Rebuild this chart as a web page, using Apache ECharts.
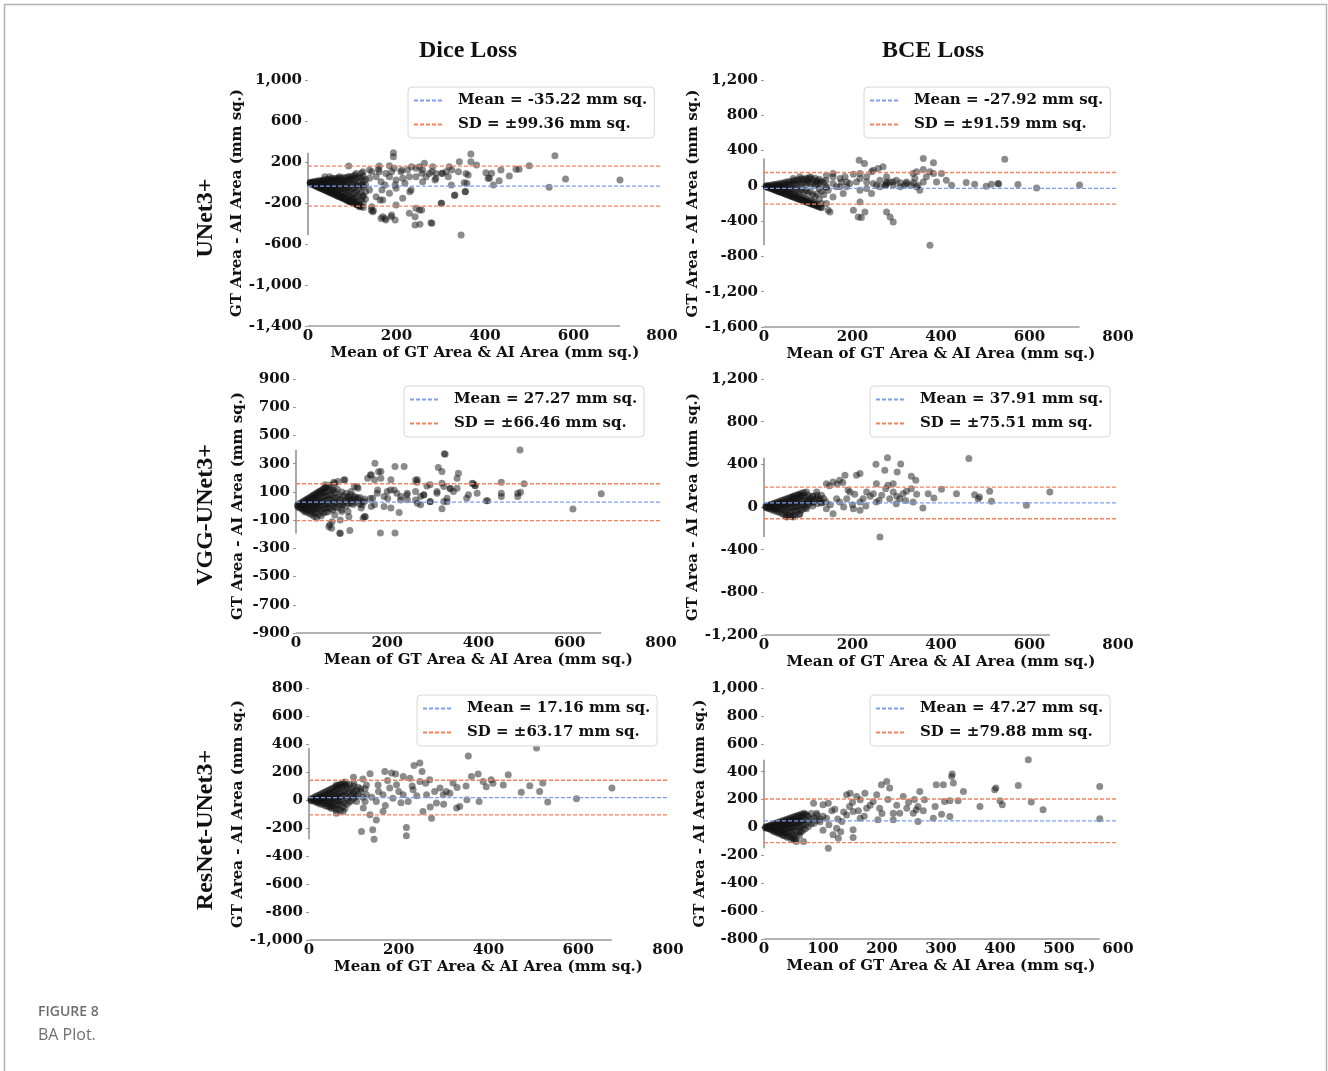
<!DOCTYPE html>
<html><head><meta charset="utf-8">
<script src="https://cdn.jsdelivr.net/npm/echarts@6/dist/echarts.min.js"></script>
<style>html,body{margin:0;padding:0;background:#fff;}#c{width:1328px;height:1071px;}</style>
</head><body><div id="c"></div>
<script>
// ---------------- DATA ----------------
const colTitles = ['Dice Loss', 'BCE Loss'];
const rowTitles = ['UNet3+', 'VGG-UNet3+', 'ResNet-UNet3+'];
const xAxisTitle = 'Mean of GT Area & AI Area (mm sq.)';
const yAxisTitle = 'GT Area - AI Area (mm sq.)';
const captionLabel = 'FIGURE 8';
const captionText = 'BA Plot.';

const means = [-35.22, -27.92, 27.27, 37.91, 17.16, 47.27];
const sds   = [99.36, 91.59, 66.46, 75.51, 63.17, 79.88];

const yTicksDiceUnet = [-1400, -1000, -600, -200, 200, 600, 1000];
const yTicksBceUnet  = [-1600, -1200, -800, -400, 0, 400, 800, 1200];
const yTicksDiceVgg  = [-900, -700, -500, -300, -100, 100, 300, 500, 700, 900];
const yTicksBceVgg   = [-1200, -800, -400, 0, 400, 800, 1200];
const yTicksDiceRes  = [-1000, -800, -600, -400, -200, 0, 200, 400, 600, 800];
const yTicksBceRes   = [-800, -600, -400, -200, 0, 200, 400, 600, 800, 1000];
const xTicks800 = [0, 200, 400, 600, 800];
const xTicks600 = [0, 100, 200, 300, 400, 500, 600];

// Dice / UNet3+
const diceUnet = [[193,291],[193,252],[368,278],[368,203],[342,203],[558,262],[92,161],[161,161],[184,164],[263,187],[282,154],[319,154],[500,164],[477,129],[470,129],[436,122],[402,96],[410,41],[432,18],[455,63],[419,-24],[545,-47],[582,34],[705,24],[357,89],[353,-2],[356,-89],[331,-128],[324,-24],[301,-203],[278,-392],[253,-408],[346,-512],[188,-333],[169,-333],[165,-350],[176,-366],[143,-268],[146,-285],[229,-301],[199,-219],[244,-252],[252,-268],[214,-154],[233,-73],[259,8],[259,122],[274,89],[289,89],[304,89],[312,106],[289,41],[267,57],[244,57],[225,122],[229,57],[214,41],[199,24],[184,57],[165,8],[154,57],[139,122],[124,106],[109,89],[124,-24],[139,-73],[154,-138],[169,-171],[184,-106],[124,-138],[101,-154],[94,-187],[116,-236],[75,-138],[64,-106],[56,-73],[86,-41],[94,57],[71,57],[49,57],[38,57],[64,24],[79,8],[139,41],[161,106],[176,89],[195,138],[210,106],[244,138],[252,154],[109,-24],[199,-57],[234,154],[212,122],[189,105],[159,129],[144,105],[121,90],[106,73],[257,90],[280,105],[302,90],[325,122],[340,105],[317,57],[287,24],[230,-90],[219,-8],[197,-24],[174,-24],[167,-73],[163,-171],[144,-236],[148,-275],[189,-317],[197,-366],[174,-350],[257,-268],[242,-333],[280,-398],[242,-415],[302,-203],[332,-122],[355,-90],[359,-8],[362,73],[381,171],[407,41],[415,90]];
const diceUnetDense = [[5,-10],[10,-20],[15,-29],[20,-39],[25,-49],[30,-59],[35,-68],[40,-78],[45,-88],[50,-98],[55,-107],[60,-117],[65,-127],[70,-137],[75,-146],[80,-156],[85,-166],[90,-176],[95,-185],[100,-195],[105,-205],[110,-215],[115,-224],[120,-234],[125,-244],[7,-14],[12,-23],[18,-35],[22,-43],[28,-55],[33,-64],[38,-74],[43,-84],[48,-94],[53,-103],[58,-113],[63,-123],[68,-133],[73,-142],[78,-152],[83,-162],[88,-172],[93,-181],[98,-191],[103,-201],[108,-211],[113,-220],[118,-230],[5,3],[5,-4],[10,6],[10,-2],[10,-10],[15,10],[15,0],[15,-12],[15,-22],[20,14],[20,2],[20,-10],[20,-25],[20,-35],[25,18],[25,5],[25,-8],[25,-22],[25,-38],[30,20],[30,8],[30,-5],[30,-20],[30,-35],[30,-50],[35,25],[35,10],[35,-3],[35,-18],[35,-40],[35,-58],[40,28],[40,12],[40,-8],[40,-25],[40,-45],[40,-65],[45,30],[45,15],[45,0],[45,-20],[45,-40],[45,-60],[45,-78],[50,35],[50,18],[50,-5],[50,-30],[50,-55],[50,-85],[55,38],[55,20],[55,2],[55,-25],[55,-50],[55,-75],[55,-95],[60,40],[60,22],[60,-10],[60,-40],[60,-70],[60,-100],[65,42],[65,15],[65,-15],[65,-45],[65,-80],[65,-110],[70,45],[70,25],[70,-5],[70,-35],[70,-65],[70,-95],[70,-125],[75,40],[75,10],[75,-30],[75,-60],[75,-100],[75,-135],[80,50],[80,20],[80,-20],[80,-55],[80,-90],[80,-140],[85,45],[85,15],[85,-25],[85,-70],[85,-110],[85,-150],[90,55],[90,25],[90,-10],[90,-50],[90,-95],[90,-130],[90,-165],[95,40],[95,5],[95,-40],[95,-85],[95,-140],[95,-175],[100,60],[100,30],[100,-15],[100,-60],[100,-110],[100,-160],[100,-190],[105,50],[105,10],[105,-50],[105,-100],[105,-150],[105,-200],[110,45],[110,-20],[110,-80],[110,-140],[110,-190],[115,55],[115,0],[115,-60],[115,-120],[115,-180],[120,40],[120,-30],[120,-100],[120,-170],[125,60],[125,15],[125,-45],[125,-130],[125,-200],[130,30],[130,-20],[130,-90],[130,-160]];

// BCE / UNet3+
const bceUnet = [[215,291],[227,253],[360,310],[383,261],[544,303],[375,159],[360,185],[345,159],[337,140],[401,140],[412,64],[390,45],[424,8],[457,38],[476,19],[502,-4],[514,19],[529,26],[530,20],[574,15],[616,-23],[713,11],[247,178],[258,197],[269,216],[217,140],[202,132],[232,102],[277,102],[292,45],[308,34],[322,26],[352,-49],[348,8],[337,34],[285,45],[277,26],[254,8],[232,-30],[217,-49],[243,-87],[217,-182],[202,-276],[213,-352],[220,-359],[228,-295],[277,-295],[285,-352],[292,-409],[375,-673],[141,-200],[145,-276],[149,-295],[156,-125],[172,-11],[187,-11],[179,-87],[141,-11],[126,26],[104,102],[81,102],[66,83],[96,64],[156,102],[172,83],[187,45],[156,26],[119,45],[141,121],[262,64],[299,64],[209,45],[217,83],[232,45],[247,26],[262,-11],[292,8],[308,-11],[322,45],[318,8],[333,8],[277,45],[274,8],[275,5],[243,159],[183,102],[194,26],[175,45],[164,-11],[145,-49],[156,140],[360,45],[367,102],[383,140],[345,-11],[341,83]];
const bceUnetDense = [[5,-10],[10,-19],[15,-28],[20,-38],[25,-47],[30,-57],[35,-66],[40,-76],[45,-85],[50,-95],[55,-104],[60,-114],[65,-123],[70,-133],[75,-142],[80,-152],[85,-161],[90,-171],[95,-180],[100,-190],[105,-199],[110,-209],[115,-218],[120,-228],[125,-237],[130,-247],[8,-15],[13,-25],[18,-34],[23,-44],[28,-53],[33,-63],[38,-72],[43,-82],[48,-91],[53,-101],[58,-110],[63,-120],[68,-129],[73,-139],[78,-148],[83,-158],[88,-167],[93,-177],[98,-186],[103,-196],[108,-205],[113,-215],[118,-224],[123,-234],[128,-243],[5,2],[5,-5],[10,5],[10,-8],[15,8],[15,-5],[15,-18],[20,12],[20,-5],[20,-25],[25,15],[25,0],[25,-20],[25,-35],[30,20],[30,2],[30,-25],[30,-45],[35,25],[35,5],[35,-20],[35,-50],[40,30],[40,8],[40,-25],[40,-55],[45,35],[45,10],[45,-30],[45,-65],[50,40],[50,15],[50,-20],[50,-60],[55,50],[55,20],[55,-35],[55,-75],[60,45],[60,10],[60,-40],[60,-90],[65,55],[65,20],[65,-30],[65,-95],[70,60],[70,25],[70,-50],[70,-100],[75,65],[75,15],[75,-40],[75,-110],[80,70],[80,30],[80,-60],[80,-120],[85,80],[85,20],[85,-45],[85,-130],[90,75],[90,35],[90,-70],[90,-140],[95,85],[95,15],[95,-55],[95,-150],[100,80],[100,40],[100,-80],[100,-160],[105,90],[105,20],[105,-60],[105,-170],[110,70],[110,30],[110,-100],[110,-180],[115,85],[115,0],[115,-120],[115,-195],[120,60],[120,20],[120,-90],[120,-205],[125,75],[125,-30],[125,-150],[130,50],[130,-60],[130,-200],[135,40],[135,-100],[140,60],[140,-20]];

// Dice / VGG-UNet3+
const diceVgg = [[491,397],[327,367],[325,370],[173,303],[217,280],[237,280],[312,272],[320,244],[186,244],[356,232],[353,197],[165,221],[157,197],[172,186],[208,186],[266,186],[450,169],[500,157],[389,157],[392,145],[450,91],[450,67],[486,91],[492,98],[486,67],[669,86],[607,-22],[420,37],[374,55],[378,79],[345,103],[338,122],[324,138],[309,103],[294,150],[280,79],[273,67],[262,103],[244,91],[230,67],[215,114],[200,103],[193,67],[179,114],[168,55],[150,32],[136,55],[121,103],[114,67],[103,8],[100,-39],[85,-63],[74,-133],[78,-157],[96,-192],[118,-173],[150,-74],[147,-86],[185,-192],[217,-192],[226,-46],[193,-4],[208,-15],[266,20],[273,8],[294,32],[324,32],[320,-20],[331,55],[244,44],[172,8],[165,-4],[143,-15],[121,20],[114,-39],[107,186],[92,174],[85,162],[64,150],[128,138],[136,126],[163,220],[181,243],[186,196],[105,184],[83,168],[262,184],[265,168],[287,142],[386,161],[393,144],[417,38],[320,161],[338,125],[353,125],[309,90],[280,78],[262,43],[243,78],[221,90],[207,113],[201,54],[178,90],[163,54],[145,7],[152,-76],[116,-76],[97,-99],[79,-111],[72,-147],[97,-194],[229,43],[294,30],[331,30],[397,90],[134,137],[127,66],[119,43],[83,113],[75,149]];
const diceVggDense = [[3,6],[6,12],[9,18],[12,24],[15,30],[18,36],[21,42],[24,48],[27,54],[30,60],[33,66],[36,72],[39,78],[42,84],[45,90],[48,96],[51,102],[54,108],[57,114],[60,120],[63,126],[66,132],[70,138],[5,0],[5,-8],[8,4],[8,-12],[12,10],[12,-5],[12,-20],[16,15],[16,0],[16,-18],[16,-30],[20,25],[20,8],[20,-10],[20,-30],[20,-42],[25,35],[25,15],[25,-5],[25,-25],[25,-45],[30,45],[30,25],[30,5],[30,-15],[30,-35],[30,-55],[35,55],[35,30],[35,10],[35,-10],[35,-30],[35,-60],[40,60],[40,35],[40,15],[40,-5],[40,-25],[40,-50],[40,-75],[45,70],[45,45],[45,20],[45,0],[45,-20],[45,-45],[45,-85],[50,80],[50,50],[50,25],[50,5],[50,-20],[50,-60],[55,90],[55,60],[55,30],[55,0],[55,-35],[55,-70],[60,95],[60,65],[60,35],[60,10],[60,-20],[60,-50],[65,100],[65,70],[65,40],[65,15],[65,-15],[65,-45],[70,110],[70,75],[70,45],[70,15],[70,-10],[70,-40],[75,120],[75,80],[75,50],[75,20],[75,-20],[80,110],[80,70],[80,35],[80,5],[80,-30],[85,95],[85,55],[85,20],[85,-10],[90,120],[90,60],[90,25],[90,-15],[95,80],[95,40],[95,5],[100,100],[100,50],[100,15],[100,-25],[105,70],[105,30],[110,90],[110,45],[110,0],[115,60],[115,20],[120,80],[120,35],[125,50],[125,10],[130,65],[130,25],[135,45],[140,60],[140,15],[145,30],[150,50]];

// BCE / VGG-UNet3+
const bceVgg = [[279,461],[253,401],[309,404],[273,345],[301,329],[463,454],[217,313],[209,298],[183,298],[171,251],[156,235],[141,219],[333,288],[343,251],[292,219],[254,219],[646,141],[476,116],[487,94],[484,78],[510,147],[514,53],[593,16],[435,125],[401,166],[384,85],[371,125],[359,-9],[333,172],[322,147],[314,125],[307,78],[299,31],[292,141],[284,78],[266,110],[254,47],[247,125],[224,78],[217,47],[202,-16],[217,-31],[194,141],[187,78],[171,47],[156,-63],[141,-16],[126,78],[119,141],[111,47],[96,141],[81,110],[66,94],[96,-16],[81,-63],[66,-94],[51,-94],[262,-282],[337,47],[164,78],[232,141],[280,204],[148,200],[165,215],[178,230],[190,160],[205,120],[240,100],[260,60],[275,170],[300,100],[320,60],[345,120],[200,20],[230,10],[180,0],[150,20],[130,40],[110,100],[100,60],[120,110]];
const bceVggDense = [[4,6],[8,12],[12,18],[16,24],[20,30],[24,36],[28,42],[32,48],[36,54],[40,60],[44,66],[48,72],[52,78],[56,84],[60,90],[64,96],[68,102],[72,108],[76,114],[80,120],[85,128],[90,135],[5,0],[5,-6],[10,5],[10,-8],[10,-15],[15,10],[15,-5],[15,-20],[20,15],[20,0],[20,-15],[20,-30],[25,20],[25,5],[25,-15],[25,-35],[30,25],[30,5],[30,-20],[30,-45],[35,30],[35,10],[35,-15],[35,-50],[40,35],[40,10],[40,-25],[40,-60],[45,40],[45,15],[45,-20],[45,-70],[50,45],[50,20],[50,-10],[50,-45],[50,-85],[55,50],[55,20],[55,-25],[55,-75],[60,60],[60,30],[60,-5],[60,-50],[60,-90],[65,70],[65,35],[65,0],[65,-40],[65,-85],[70,75],[70,40],[70,5],[70,-30],[70,-80],[75,80],[75,45],[75,10],[75,-40],[80,90],[80,50],[80,15],[80,-20],[80,-70],[85,100],[85,55],[85,20],[85,-30],[90,110],[90,60],[90,25],[90,-15],[95,90],[95,40],[95,0],[100,110],[100,60],[100,20],[105,80],[105,40],[110,100],[110,50],[110,10],[115,70],[120,90],[120,30],[125,60],[130,110],[130,40],[135,80],[140,50]];

// Dice / ResNet-UNet3+
const diceRes = [[507,371],[355,314],[234,247],[247,264],[252,204],[169,204],[184,192],[193,185],[136,187],[99,163],[210,168],[225,156],[269,144],[377,185],[362,168],[388,132],[444,180],[433,108],[406,144],[492,101],[521,121],[514,61],[532,-15],[473,56],[675,85],[596,9],[379,-10],[352,1],[336,-46],[329,-58],[321,121],[314,49],[299,37],[284,-22],[273,-130],[254,-82],[247,132],[221,-11],[217,-197],[217,-256],[180,85],[195,109],[165,37],[150,-11],[165,-82],[150,-142],[142,-213],[145,-280],[117,-225],[136,-106],[121,-58],[106,-11],[99,61],[84,108],[61,108],[76,-82],[61,-94],[47,-46],[128,108],[154,108],[128,37],[187,13],[210,37],[232,73],[262,37],[292,85],[306,61],[240,30],[260,120],[280,60],[200,60],[175,140],[155,60],[115,80],[140,20],[120,150],[100,120],[330,90],[350,100],[395,95],[410,120],[270,-50],[300,-30],[230,100],[205,-20],[125,-10],[170,-40]];
const diceResDense = [[4,6],[8,13],[12,19],[16,26],[20,32],[24,38],[28,45],[32,51],[36,58],[40,64],[44,70],[48,77],[52,83],[56,90],[60,96],[64,102],[68,109],[72,115],[76,122],[80,128],[5,0],[5,-5],[10,4],[10,-8],[15,8],[15,-6],[15,-15],[20,15],[20,2],[20,-12],[20,-22],[25,20],[25,5],[25,-10],[25,-28],[30,25],[30,8],[30,-8],[30,-30],[35,30],[35,12],[35,-5],[35,-25],[35,-40],[40,40],[40,18],[40,0],[40,-20],[40,-45],[45,45],[45,22],[45,2],[45,-25],[45,-50],[50,55],[50,30],[50,5],[50,-15],[50,-40],[50,-60],[55,60],[55,35],[55,10],[55,-20],[55,-55],[60,70],[60,40],[60,15],[60,-10],[60,-40],[60,-70],[65,80],[65,45],[65,20],[65,-5],[65,-35],[65,-65],[70,90],[70,55],[70,25],[70,0],[70,-30],[70,-75],[75,100],[75,60],[75,30],[75,-10],[75,-50],[80,105],[80,65],[80,30],[80,-20],[80,-60],[85,90],[85,50],[85,10],[85,-30],[90,110],[90,60],[90,20],[90,-15],[95,80],[95,35],[95,-5],[100,100],[100,45],[100,10],[105,70],[105,25],[110,90],[110,40],[115,60],[120,20],[125,80]];

// BCE / ResNet-UNet3+
const bceRes = [[448,485],[319,383],[318,366],[569,294],[569,62],[431,301],[391,270],[393,282],[400,191],[404,162],[453,182],[473,126],[366,150],[338,258],[321,318],[304,306],[292,306],[306,186],[315,191],[329,191],[301,95],[315,79],[287,66],[272,198],[264,258],[261,150],[258,126],[261,43],[253,102],[242,138],[236,222],[230,102],[219,102],[213,282],[208,330],[199,306],[191,234],[185,186],[196,138],[193,55],[171,246],[163,198],[157,222],[146,246],[140,234],[151,114],[140,90],[132,43],[151,-17],[151,-72],[123,-5],[126,-77],[117,-53],[109,-149],[109,174],[100,162],[84,174],[89,102],[72,90],[67,-101],[55,-101],[50,-77],[61,-29],[106,66],[174,138],[163,66],[219,55],[120,130],[135,110],[145,150],[160,120],[180,160],[210,200],[225,160],[245,180],[270,120],[290,150],[200,100],[170,80],[125,60],[110,20],[95,40],[100,-20],[130,-30],[115,120],[150,180],[255,200]];
const bceResDense = [[3,4],[6,8],[9,13],[12,18],[15,22],[18,27],[21,32],[24,36],[27,40],[30,45],[33,50],[36,54],[39,58],[42,63],[45,68],[48,72],[51,76],[54,80],[57,86],[60,90],[64,96],[68,102],[3,0],[3,-4],[6,2],[6,-6],[9,5],[9,-5],[9,-12],[12,8],[12,-4],[12,-15],[15,10],[15,-2],[15,-15],[15,-25],[18,12],[18,0],[18,-18],[18,-30],[21,15],[21,2],[21,-15],[21,-35],[24,18],[24,5],[24,-12],[24,-30],[24,-42],[27,20],[27,5],[27,-20],[27,-45],[30,25],[30,8],[30,-10],[30,-35],[30,-50],[33,30],[33,10],[33,-15],[33,-40],[33,-60],[36,35],[36,15],[36,-5],[36,-30],[36,-60],[39,40],[39,18],[39,-10],[39,-45],[39,-70],[42,45],[42,20],[42,0],[42,-30],[42,-65],[45,50],[45,25],[45,0],[45,-40],[45,-80],[48,55],[48,30],[48,5],[48,-25],[48,-70],[51,60],[51,30],[51,0],[51,-50],[51,-90],[54,60],[54,35],[54,5],[54,-30],[54,-85],[57,70],[57,40],[57,10],[57,-45],[60,75],[60,40],[60,0],[60,-60],[63,80],[63,45],[63,15],[63,-30],[66,85],[66,50],[66,20],[66,-20],[70,95],[70,55],[70,20],[70,-10],[75,80],[75,40],[75,5],[80,100],[80,60],[80,25],[85,70],[85,30],[90,90],[90,50],[95,60],[100,80]];

// ---------------- LAYOUT / STYLE ----------------
const panels = [
  {pts: diceUnet.concat(diceUnetDense), yt: yTicksDiceUnet, xt: xTicks800, grid:{left:308, top:80, width:354, height:246}, yGap:62, leg:[408,87]},
  {pts: bceUnet.concat(bceUnetDense),   yt: yTicksBceUnet,  xt: xTicks800, grid:{left:764, top:80, width:354, height:247}, yGap:61, leg:[864,87]},
  {pts: diceVgg.concat(diceVggDense),   yt: yTicksDiceVgg,  xt: xTicks800, grid:{left:296, top:379, width:365, height:254}, yGap:50, leg:[404,386]},
  {pts: bceVgg.concat(bceVggDense),     yt: yTicksBceVgg,   xt: xTicks800, grid:{left:764, top:379, width:354, height:256}, yGap:61, leg:[870,386]},
  {pts: diceRes.concat(diceResDense),   yt: yTicksDiceRes,  xt: xTicks800, grid:{left:309, top:688, width:359, height:252}, yGap:63, leg:[417,695]},
  {pts: bceRes.concat(bceResDense),     yt: yTicksBceRes,   xt: xTicks600, grid:{left:764, top:688, width:354, height:251}, yGap:54, leg:[870,695]}
];

const SERIF = '"DejaVu Serif", serif';
const txt = {fontFamily: SERIF, fontWeight: 'bold', fontSize: 15, color: '#111'};
const fmt = v => (v < 0 ? '-' : '') + String(Math.abs(v)).replace(/\B(?=(\d{3})+(?!\d))/g, ',');
const meanColor = '#7d9ef0';
const sdColor = '#f4825f';
const spineColor = '#7a7a7a';

const option = {
  animation: false,
  backgroundColor: '#fff',
  grid: [], xAxis: [], yAxis: [], series: [], legend: [],
  graphic: []
};

panels.forEach((p, i) => {
  const xt = p.xt, yt = p.yt;
  const x0 = xt[0], x1 = xt[xt.length - 1];
  const y0 = yt[0], y1 = yt[yt.length - 1];
  option.grid.push(Object.assign({containLabel: false}, p.grid));
  option.xAxis.push({
    gridIndex: i, type: 'value', min: x0, max: x1,
    axisLine: {show: false}, axisTick: {show: false}, splitLine: {show: false},
    axisLabel: Object.assign({customValues: xt, margin: 3, formatter: fmt}, txt),
    name: xAxisTitle, nameLocation: 'middle', nameGap: 20, nameTextStyle: txt
  });
  option.yAxis.push({
    gridIndex: i, type: 'value', min: y0, max: y1,
    axisLine: {show: false},
    axisTick: {show: true, customValues: yt, length: 3, lineStyle: {color: '#999', width: 1}},
    splitLine: {show: false},
    axisLabel: Object.assign({customValues: yt, margin: 6, formatter: fmt}, txt),
    name: yAxisTitle, nameLocation: 'middle', nameGap: p.yGap, nameTextStyle: txt
  });
  const ys = p.pts.map(d => d[1]), xs = p.pts.map(d => d[0]);
  const minY = Math.min(...ys), maxY = Math.max(...ys), maxX = Math.max(...xs);
  // trimmed spines
  option.series.push({type: 'line', xAxisIndex: i, yAxisIndex: i, data: [[x0, minY], [x0, maxY]], symbol: 'none', silent: true, clip: false, z: 1,
    lineStyle: {color: spineColor, width: 1.3}});
  option.series.push({type: 'line', xAxisIndex: i, yAxisIndex: i, data: [[x0, y0], [maxX, y0]], symbol: 'none', silent: true, clip: false, z: 1,
    lineStyle: {color: '#9a9a9a', width: 1.3}});
  // points
  option.series.push({type: 'scatter', xAxisIndex: i, yAxisIndex: i, data: p.pts, symbolSize: 7, silent: true, z: 2,
    itemStyle: {color: 'rgba(20,20,20,0.62)'}});
  // mean and limits of agreement
  const m = means[i], s = sds[i];
  const meanName = 'Mean = ' + m.toFixed(2) + ' mm sq.';
  const sdName = 'SD = \u00b1' + s.toFixed(2) + ' mm sq.';
  const up = m + 1.96 * s, lo = m - 1.96 * s;
  option.series.push({type: 'line', name: meanName, xAxisIndex: i, yAxisIndex: i, data: [[x0, m], [x1, m]], symbol: 'none', silent: true, z: 3,
    lineStyle: {color: meanColor, width: 1.3, type: [4, 2]}, itemStyle: {color: meanColor}});
  option.series.push({type: 'line', name: sdName, xAxisIndex: i, yAxisIndex: i, data: [[x0, up], [x1, up]], symbol: 'none', silent: true, z: 3,
    lineStyle: {color: sdColor, width: 1.3, type: [4, 2]}, itemStyle: {color: sdColor}});
  option.series.push({type: 'line', name: sdName, xAxisIndex: i, yAxisIndex: i, data: [[x0, lo], [x1, lo]], symbol: 'none', silent: true, z: 3,
    lineStyle: {color: sdColor, width: 1.3, type: [4, 2]}, itemStyle: {color: sdColor}});
  option.legend.push({
    data: [meanName, sdName], orient: 'vertical', left: p.leg[0], top: p.leg[1],
    itemWidth: 30, itemHeight: 14, itemGap: 9, padding: [6, 7, 6, 5], selectedMode: false,
    itemStyle: {opacity: 0},
    borderColor: '#d8d8d8', borderWidth: 1, borderRadius: 4, backgroundColor: 'rgba(255,255,255,0.85)',
    textStyle: Object.assign({padding: [0, 0, 0, 9]}, txt)
  });
});

// frame, titles, caption
option.graphic.push({type: 'rect', silent: true, shape: {x: 4.5, y: 4.5, width: 1322, height: 1120},
  style: {fill: 'none', stroke: '#b3b3b3', lineWidth: 1.5}});
const titleFont = 'bold 24px "Liberation Serif", "Times New Roman", serif';
[[468, 51], [933, 51]].forEach((pos, k) => option.graphic.push({type: 'text', x: pos[0], y: pos[1], silent: true,
  style: {text: colTitles[k], font: titleFont, fill: '#111', align: 'center', verticalAlign: 'middle'}}));
[[206, 218], [206, 515], [206, 830]].forEach((pos, k) => option.graphic.push({type: 'text', x: pos[0], y: pos[1], rotation: Math.PI / 2, silent: true,
  style: {text: rowTitles[k], font: titleFont, fill: '#111', align: 'center', verticalAlign: 'middle'}}));
option.graphic.push({type: 'text', x: 38, y: 1012, silent: true,
  style: {text: captionLabel, font: '600 14px "Open Sans", sans-serif', fill: '#6e6e6e', align: 'left', verticalAlign: 'middle'}});
option.graphic.push({type: 'text', x: 38, y: 1035, silent: true,
  style: {text: captionText, font: '16px "Open Sans", sans-serif', fill: '#6e6e6e', align: 'left', verticalAlign: 'middle'}});

const chart = echarts.init(document.getElementById('c'), null, {renderer: 'canvas'});
chart.setOption(option);
</script>
</body></html>
